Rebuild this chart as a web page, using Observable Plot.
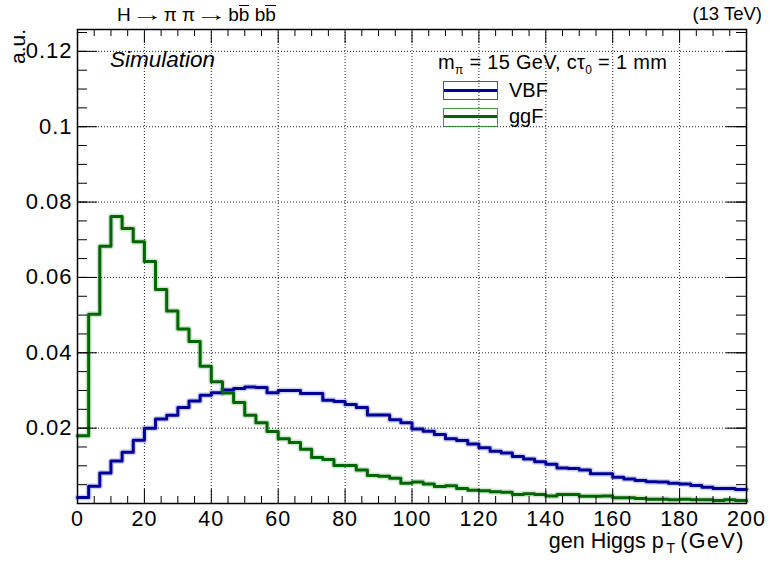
<!DOCTYPE html>
<html><head><meta charset="utf-8">
<script src="https://cdn.jsdelivr.net/npm/d3@7"></script>
<script src="https://cdn.jsdelivr.net/npm/@observablehq/plot@0.6"></script>
<style>
body{margin:0;background:#fff;}
#wrap{position:relative;width:769px;height:563px;font-family:"Liberation Sans",Arial,Helvetica,sans-serif;color:#000;overflow:hidden;}
#wrap svg{position:absolute;left:0;top:0;}
#wrap svg text{letter-spacing:1px;}
.t{position:absolute;white-space:nowrap;line-height:1;}
.ob{display:inline-block;border-top:1.5px solid #000;line-height:0.8;padding-top:1px;}
.box{position:absolute;width:55px;height:19px;box-sizing:border-box;}
.box i{position:absolute;left:0;right:0;top:6.5px;height:3px;}
.arr{display:inline-block;transform:scaleX(1.7);margin:0 7px;}
</style></head><body><div id="wrap"></div>
<script>
// histogram range and binning (60 bins, 0-200 GeV)
const xRange = [0, 200];
const xTicksMajor = [0, 20, 40, 60, 80, 100, 120, 140, 160, 180, 200];
const xTicksMinor = d3.range(0, 201, 5);
const yTicksMajor = [0.02, 0.04, 0.06, 0.08, 0.1, 0.12];
const yTicksMinor = d3.range(0, 0.1251, 0.005);
const yMax = 0.1258;

const vbf = [0.0016,0.0046,0.0081,0.0113,0.0136,0.0168,0.0200,0.0224,0.0234,0.0255,
  0.0272,0.0287,0.0294,0.0301,0.0305,0.0309,0.0308,0.0294,0.0300,0.0300,
  0.0292,0.0292,0.0274,0.0271,0.0263,0.0255,0.0235,0.0235,0.0222,0.0214,
  0.0198,0.0192,0.0183,0.0172,0.0167,0.0158,0.0148,0.0139,0.0134,0.0125,
  0.0118,0.0111,0.0104,0.0094,0.0093,0.0089,0.0079,0.0079,0.0070,0.0065,
  0.0061,0.0058,0.0057,0.0054,0.0052,0.0048,0.0043,0.0040,0.0040,0.0037];
const ggf = [0.0180,0.0502,0.0683,0.0762,0.0730,0.0695,0.0642,0.0568,0.0511,0.0463,
  0.0430,0.0364,0.0323,0.0293,0.0268,0.0234,0.0214,0.0191,0.0172,0.0162,
  0.0144,0.0122,0.0117,0.0101,0.0101,0.0089,0.0074,0.0072,0.0067,0.0054,
  0.0057,0.0052,0.0045,0.0047,0.0040,0.0035,0.0034,0.0031,0.0030,0.0024,
  0.0026,0.0024,0.0020,0.0024,0.0024,0.0019,0.0019,0.0020,0.0015,0.0015,
  0.0013,0.0011,0.0011,0.0010,0.0011,0.0010,0.0010,0.0008,0.0010,0.0008];

const colVBF = "#000099", colGGF = "#006600";

function steps(vals) {
  const w = (xRange[1] - xRange[0]) / vals.length;
  const pts = vals.map((v, i) => ({x: xRange[0] + i * w, y: v}));
  pts.push({x: xRange[1], y: vals[vals.length - 1]});
  return pts;
}

const W = 769, H = 563, mL = 77, mR = 23, mT = 29, mB = 60;
const iW = W - mL - mR, iH = H - mT - mB;
const isMajX = d => xTicksMajor.includes(d);

const chart = Plot.plot({
  width: W, height: H,
  marginLeft: mL, marginRight: mR, marginTop: mT, marginBottom: mB,
  style: {fontFamily: '"Liberation Sans", Arial, sans-serif', fontSize: "22px", background: "transparent", color: "#000"},
  x: {domain: xRange, label: null},
  y: {domain: [0, yMax], label: null},
  marks: [
    Plot.ruleX(xTicksMajor.slice(1, -1), {stroke: "#222", strokeDasharray: "1,2", strokeWidth: 1}),
    Plot.ruleY(yTicksMajor, {stroke: "#222", strokeDasharray: "1,2", strokeWidth: 1}),
    Plot.line(steps(vbf), {x: "x", y: "y", curve: "step-after", stroke: colVBF, strokeWidth: 6, strokeOpacity: 0.18}),
    Plot.line(steps(ggf), {x: "x", y: "y", curve: "step-after", stroke: colGGF, strokeWidth: 6, strokeOpacity: 0.18}),
    Plot.line(steps(vbf), {x: "x", y: "y", curve: "step-after", stroke: colVBF, strokeWidth: 3}),
    Plot.line(steps(ggf), {x: "x", y: "y", curve: "step-after", stroke: colGGF, strokeWidth: 3}),
    // x ticks bottom / top
    Plot.ruleX(xTicksMinor.filter(d => !isMajX(d)), {stroke: "#000", insetTop: iH - 7}),
    Plot.ruleX(xTicksMajor, {stroke: "#000", insetTop: iH - 14}),
    Plot.ruleX(xTicksMinor.filter(d => !isMajX(d)), {stroke: "#000", insetBottom: iH - 7}),
    Plot.ruleX(xTicksMajor, {stroke: "#000", insetBottom: iH - 14}),
    // y ticks left / right
    Plot.ruleY(yTicksMinor, {stroke: "#000", insetRight: iW - 10}),
    Plot.ruleY(yTicksMajor, {stroke: "#000", insetRight: iW - 20}),
    Plot.ruleY(yTicksMinor, {stroke: "#000", insetLeft: iW - 10}),
    Plot.ruleY(yTicksMajor, {stroke: "#000", insetLeft: iW - 20}),
    Plot.frame({stroke: "#000", strokeWidth: 1.5}),
    Plot.axisX(xTicksMajor, {tickSize: 0, tickPadding: 7, fontSize: 21.5, tickFormat: d => String(d), label: null}),
    Plot.axisY(yTicksMajor, {tickSize: 0, tickPadding: 5, fontSize: 22, tickFormat: d => String(d), label: null})
  ]
});

const wrap = document.getElementById("wrap");
wrap.appendChild(chart);

const html = `
<div class="t" style="left:117px;top:5px;font-size:19px;">H<span class="arr">&#8594;</span>&#960; &#960;<span class="arr">&#8594;</span>b<span class="ob">b</span> b<span class="ob">b</span></div>
<div class="t" style="right:7px;top:5px;font-size:18.5px;">(13 TeV)</div>
<div class="t" style="left:7px;top:0px;font-size:21px;transform-origin:0 0;transform:translate(0,64px) rotate(-90deg);">a.u.</div>
<div class="t" style="left:110px;top:49px;font-size:22.5px;font-style:italic;">Simulation</div>
<div class="t" style="left:438px;top:52px;font-size:20px;letter-spacing:0.3px;">m<sub style="font-size:12px;">&#960;</sub> = 15 GeV, c&#964;<sub style="font-size:12px;">0</sub> = 1 mm</div>
<div class="box" style="left:443px;top:81px;border:1.5px solid rgba(0,0,153,0.7);"><i style="background:${colVBF}"></i></div>
<div class="box" style="left:443px;top:107.5px;border:1.5px solid rgba(0,102,0,0.7);"><i style="background:${colGGF}"></i></div>
<div class="t" style="left:509px;top:80px;font-size:20px;">VBF</div>
<div class="t" style="left:509px;top:106px;font-size:20px;">ggF</div>
<div class="t" style="right:24px;top:531px;font-size:21.5px;">gen Higgs p<sub style="font-size:14px;margin:0 5px 0 3px;">T</sub><span style="letter-spacing:1.5px;">(GeV)</span></div>
`;
wrap.insertAdjacentHTML("beforeend", html);
</script>
</body></html>
